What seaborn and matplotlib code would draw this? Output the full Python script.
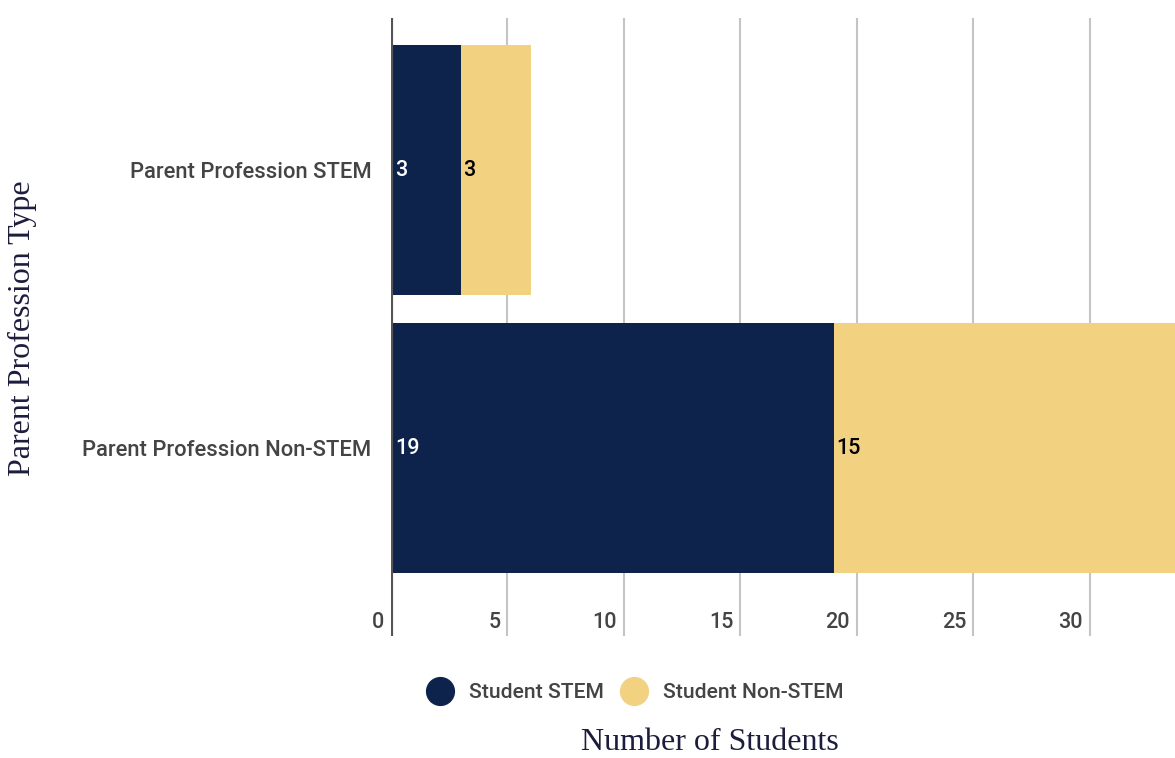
import matplotlib
matplotlib.use('Agg')
import matplotlib.pyplot as plt
from matplotlib.lines import Line2D
import seaborn as sns
import pandas as pd

categories = ['Parent Profession STEM', 'Parent Profession Non-STEM']
student_stem = [3, 19]
student_non_stem = [3, 15]
series_names = ['Student STEM', 'Student Non-STEM']
x_ticks = [0, 5, 10, 15, 20, 25, 30]

navy = '#0d234b'
yellow = '#f2d281'
text_gray = '#444444'
fs = 15.5

sns.set_style('white')
plt.rcParams['font.family'] = ['Roboto', 'DejaVu Sans']
plt.rcParams['font.weight'] = 'medium'

df = pd.DataFrame({'category': categories,
                   'stem': student_stem,
                   'non_stem': student_non_stem})
df['total'] = df['stem'] + df['non_stem']

fig = plt.figure(figsize=(11.75, 7.58), dpi=100)
ax = fig.add_axes([391/1175, 122/758, 784/1175, 618/758])

# stacked bars: total in yellow, STEM on top in navy
sns.barplot(data=df, y='category', x='total', orient='h', color=yellow,
            width=0.9, ax=ax, saturation=1, zorder=2, linewidth=0)
sns.barplot(data=df, y='category', x='stem', orient='h', color=navy,
            width=0.9, ax=ax, saturation=1, zorder=3, linewidth=0)

ax.set_xlim(0, 33.65)
ax.set_ylim(1.676, -0.547)

# gridlines
for t in x_ticks[1:]:
    ax.axvline(t, color='#c4c4c4', lw=1.5, zorder=1)
ax.axvline(0, color='#555555', lw=3, zorder=4)

for s in ax.spines.values():
    s.set_visible(False)

# x tick labels sit inside the plot, left of each gridline
ax.set_xticks([])
for t in x_ticks:
    ax.annotate(str(t), xy=(t, 0), xycoords=('data', 'axes fraction'),
                xytext=(-5, 10), textcoords='offset points',
                ha='right', va='center', fontsize=fs, color=text_gray)

ax.tick_params(axis='y', length=0, pad=14, labelsize=15.8, labelcolor=text_gray)
ax.set_xlabel('')
ax.set_ylabel('')

# value labels
for i in range(len(categories)):
    ax.annotate(str(student_stem[i]), xy=(0, i), xytext=(3, 0),
                textcoords='offset points', ha='left', va='center',
                fontsize=fs, color='white', zorder=5)
    ax.annotate(str(student_non_stem[i]), xy=(student_stem[i], i), xytext=(1.5, 0),
                textcoords='offset points', ha='left', va='center',
                fontsize=fs, color='black', zorder=5)

handles = [Line2D([], [], marker='o', ls='', markersize=20, color=c)
           for c in [navy, yellow]]
fig.legend(handles, series_names, loc='center', bbox_to_anchor=(631/1175, 1 - 693/758),
           ncol=2, frameon=False, fontsize=15.2, labelcolor=text_gray,
           handletextpad=0.4, columnspacing=0.4)

fig.text(710/1175, 1 - 743/758, 'Number of Students', ha='center', va='center',
         fontsize=23, color='#1c1c3c', family=['Liberation Serif'], weight='normal')
fig.text(22/1175, 1 - 328/758, 'Parent Profession Type', ha='center', va='center',
         rotation=90, fontsize=23, color='#1c1c3c', family=['Liberation Serif'],
         weight='normal')

fig.savefig('out.png', dpi=100)
